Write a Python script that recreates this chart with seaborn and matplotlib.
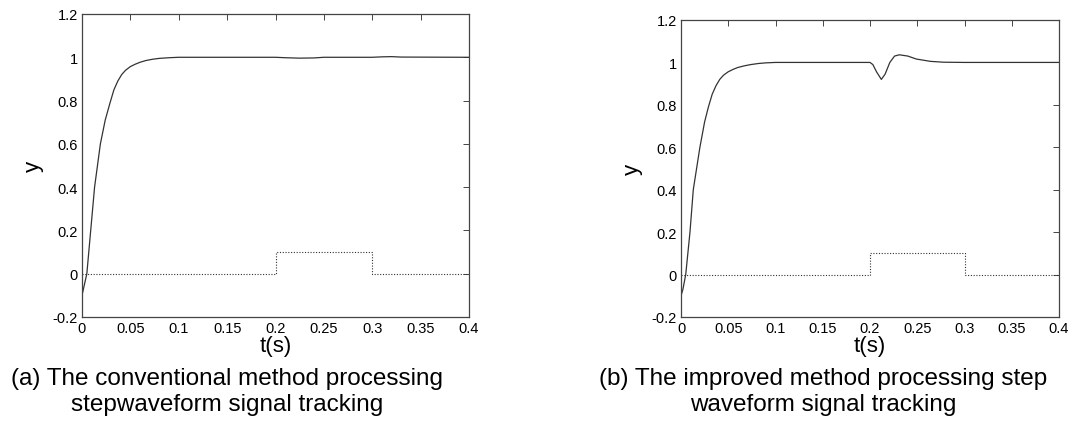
import matplotlib
matplotlib.use("Agg")
import matplotlib.pyplot as plt
import seaborn as sns

# (a) conventional method, response
t_conv = [0, 0.002, 0.005, 0.009, 0.013, 0.019, 0.024, 0.029, 0.033, 0.037,
          0.041, 0.045, 0.05, 0.055, 0.06, 0.066, 0.073, 0.08, 0.09, 0.1,
          0.15, 0.2, 0.21, 0.225, 0.24, 0.25, 0.3, 0.31, 0.32, 0.33, 0.4]
y_conv = [-0.1, -0.06, 0.0, 0.2, 0.4, 0.6, 0.71, 0.79, 0.85, 0.89,
          0.92, 0.94, 0.957, 0.968, 0.977, 0.985, 0.991, 0.995, 0.998, 1.0,
          1.0, 1.0, 0.998, 0.996, 0.997, 1.0, 1.0, 1.002, 1.003, 1.001, 1.0]

# (b) improved method, response
t_impr = [0, 0.002, 0.005, 0.0095, 0.013, 0.02, 0.025, 0.029, 0.033, 0.037,
          0.041, 0.045, 0.05, 0.055, 0.06, 0.067, 0.074, 0.082, 0.09, 0.1,
          0.2, 0.203, 0.207, 0.212, 0.216, 0.221, 0.226, 0.231, 0.24, 0.249,
          0.264, 0.278, 0.3, 0.4]
y_impr = [-0.1, -0.07, 0.0, 0.2, 0.4, 0.6, 0.72, 0.79, 0.85, 0.89,
          0.92, 0.94, 0.956, 0.967, 0.976, 0.984, 0.99, 0.995, 0.998, 1.0,
          1.0, 0.99, 0.955, 0.92, 0.945, 1.0, 1.03, 1.036, 1.03, 1.016,
          1.005, 1.001, 1.0, 1.0]

# disturbance / reference step (dotted)
t_step = [0, 0.2, 0.3, 0.4]
y_step = [0, 0.1, 0, 0]

x_ticks = [0, 0.05, 0.1, 0.15, 0.2, 0.25, 0.3, 0.35, 0.4]
x_labels = ["0", "0.05", "0.1", "0.15", "0.2", "0.25", "0.3", "0.35", "0.4"]
y_ticks = [-0.2, 0, 0.2, 0.4, 0.6, 0.8, 1.0, 1.2]
y_labels = ["-0.2", "0", "0.2", "0.4", "0.6", "0.8", "1", "1.2"]

caption_a = "(a) The conventional method processing\nstepwaveform signal tracking"
caption_b = "(b) The improved method processing step\nwaveform signal tracking"

sns.set_style("white")
plt.rcParams["font.family"] = ["Liberation Sans", "DejaVu Sans"]
plt.rcParams["text.color"] = "black"
plt.rcParams["axes.labelcolor"] = "black"
plt.rcParams["xtick.labelcolor"] = "black"
plt.rcParams["ytick.labelcolor"] = "black"

W, H = 1077, 427
fig = plt.figure(figsize=(W / 100, H / 100), dpi=100)
ax1 = fig.add_axes([82 / W, 109 / H, 387 / W, 303 / H])
ax2 = fig.add_axes([681 / W, 109 / H, 378 / W, 297 / H])


def draw(ax, t, y):
    sns.lineplot(x=t, y=y, ax=ax, color="#333333", linewidth=0.9,
                 estimator=None, sort=False)
    sns.lineplot(x=t_step, y=y_step, ax=ax, color="#333333", linewidth=0.8,
                 linestyle=(0, (1, 1.5)), drawstyle="steps-post",
                 estimator=None, sort=False)
    ax.set_xlim(0, 0.4)
    ax.set_ylim(-0.2, 1.2)
    ax.set_xticks(x_ticks)
    ax.set_xticklabels(x_labels)
    ax.set_yticks(y_ticks)
    ax.set_yticklabels(y_labels)
    ax.tick_params(direction="in", length=4, width=0.7, color="#444444",
                   labelcolor="black", labelsize=10.5, top=True, right=True,
                   pad=3)
    for s in ax.spines.values():
        s.set_color("#444444")
        s.set_linewidth(0.9)
    ax.set_xlabel("t(s)", fontsize=16, labelpad=0, color="black")
    ax.set_ylabel("y", fontsize=16, labelpad=6, color="black")


draw(ax1, t_conv, y_conv)
draw(ax2, t_impr, y_impr)

fig.text(227 / W, 1 - 392 / H, caption_a, ha="center", va="center",
         fontsize=17.5, linespacing=1.2, color="black")
fig.text(823 / W, 1 - 392 / H, caption_b, ha="center", va="center",
         fontsize=17.5, linespacing=1.2, color="black")

fig.savefig("out.png", dpi=100)
